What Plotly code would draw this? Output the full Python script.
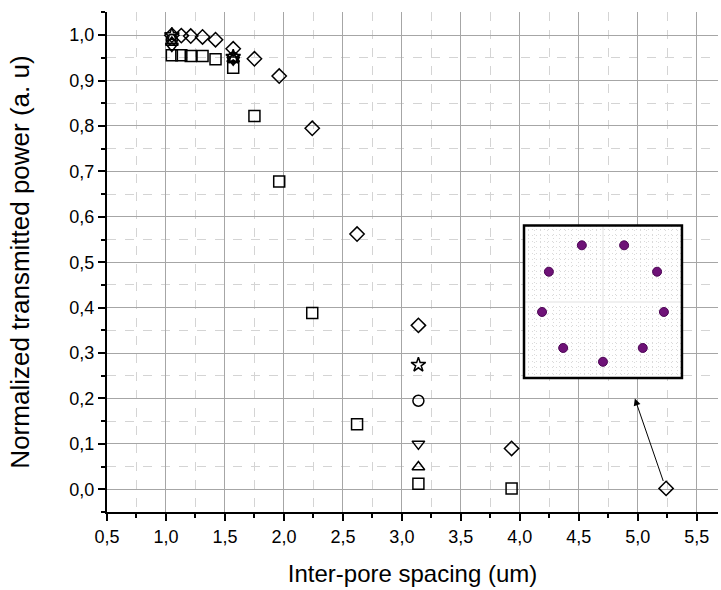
import plotly.graph_objects as go

# Inter-pore spacing (um) for each simulated ring
spacing = [1.05, 1.13, 1.21, 1.31, 1.42, 1.57, 1.75, 1.96, 2.24, 2.62, 3.14, 3.93, 5.24]

# Normalized transmitted power, series with samples at every spacing
power_square = [0.956, 0.956, 0.954, 0.954, 0.947, 0.928, 0.822, 0.678, 0.388, 0.143, 0.012, 0.002]
power_diamond = [1.000, 0.999, 0.998, 0.996, 0.990, 0.970, 0.948, 0.910, 0.795, 0.562, 0.361, 0.090, 0.002]

# Series sampled only at three spacings
spacing_few = [1.05, 1.57, 3.14]
power_star = [1.000, 0.952, 0.274]
power_circle = [0.990, 0.950, 0.195]
power_tri_down = [0.976, 0.946, 0.100]
power_tri_up = [0.984, 0.948, 0.049]

# Pore positions in the ring cross-section (unit radius)
pore_x = [0.00, 0.64, 0.98, 0.87, 0.34, -0.34, -0.87, -0.98, -0.64]
pore_y = [-1.00, -0.77, -0.17, 0.50, 0.94, 0.94, 0.50, -0.17, -0.77]

x_ticks = [0.5, 1.0, 1.5, 2.0, 2.5, 3.0, 3.5, 4.0, 4.5, 5.0, 5.5]
y_ticks = [0.0, 0.1, 0.2, 0.3, 0.4, 0.5, 0.6, 0.7, 0.8, 0.9, 1.0]

FONT = "Liberation Sans, Arial, sans-serif"
LINE = dict(color="black", width=1.5)

fig = go.Figure()

def add_series(xs, ys, symbol, size):
    fig.add_trace(go.Scatter(
        x=xs, y=ys, mode="markers", showlegend=False,
        marker=dict(symbol=symbol, size=size, color="black", line=LINE),
        xaxis="x", yaxis="y",
    ))

add_series(spacing[:len(power_square)], power_square, "square-open", 11)
add_series(spacing, power_diamond, "diamond-open", 11)
add_series(spacing_few, power_star, "star-open", 11)
add_series(spacing_few, power_circle, "circle-open", 11)
add_series(spacing_few, power_tri_down, "triangle-down-open", 11)
add_series(spacing_few, power_tri_up, "triangle-up-open", 11)

# Inset: pore layout of the largest-spacing ring
fig.add_trace(go.Scatter(
    x=pore_x, y=pore_y, mode="markers", showlegend=False,
    marker=dict(symbol="circle", size=9, color="#6e1277",
                line=dict(color="#4d0655", width=1)),
    xaxis="x2", yaxis="y2",
))

axis_common = dict(
    showline=True, linecolor="black", linewidth=2, mirror=False,
    ticks="outside", ticklen=7, tickwidth=1.5, tickcolor="black",
    showgrid=True, gridcolor="#a6a6a6", gridwidth=1,
    zeroline=False, tickformat=".1f",
    tickfont=dict(family=FONT, size=18, color="black"),
)

fig.update_layout(
    width=721, height=590,
    margin=dict(l=107, r=3, t=12, b=78),
    paper_bgcolor="white", plot_bgcolor="white",
    separators=", ",
    font=dict(family=FONT, color="black"),
    xaxis=dict(
        **axis_common,
        range=[0.5, 5.68], tickvals=x_ticks,
        minor=dict(dtick=0.25, tick0=0.5, ticks="outside", ticklen=4,
                   tickwidth=1.5, tickcolor="black", showgrid=True,
                   gridcolor="#d4d4d4", griddash="dash", gridwidth=1),
        title=dict(text="Inter-pore spacing (um)",
                   font=dict(family=FONT, size=24), standoff=20),
        domain=[0, 1],
    ),
    yaxis=dict(
        **axis_common,
        range=[-0.05, 1.051], tickvals=y_ticks,
        minor=dict(dtick=0.05, tick0=0, ticks="outside", ticklen=4,
                   tickwidth=1.5, tickcolor="black", showgrid=True,
                   gridcolor="#d4d4d4", griddash="dash", gridwidth=1),
        title=dict(text="Normalized transmitted power (a. u)",
                   font=dict(family=FONT, size=26), standoff=32),
        domain=[0, 1],
    ),
    xaxis2=dict(
        domain=[0.6825, 0.941], anchor="y2", range=[-1.27, 1.27],
        showticklabels=False, ticks="", showline=False,
        showgrid=True, dtick=0.1, gridcolor="#dadada", gridwidth=1,
        griddash="1px,3px", zeroline=True, zerolinecolor="#f0f0f0",
        zerolinewidth=2, fixedrange=True,
    ),
    yaxis2=dict(
        domain=[0.268, 0.573], anchor="x2", range=[-1.27, 1.27],
        showticklabels=False, ticks="", showline=False,
        showgrid=True, dtick=0.1, gridcolor="#dadada", gridwidth=1,
        griddash="1px,3px", zeroline=True, zerolinecolor="#f0f0f0",
        zerolinewidth=2, fixedrange=True,
    ),
    shapes=[
        dict(type="rect", xref="x2 domain", yref="y2 domain",
             x0=0, x1=1, y0=0, y1=1, layer="above",
             line=dict(color="black", width=2.5), fillcolor="rgba(0,0,0,0)"),
    ],
    annotations=[
        dict(x=4.975, y=0.200, ax=5.22, ay=0.015, xref="x", yref="y",
             axref="x", ayref="y", text="", showarrow=True,
             arrowhead=2, arrowsize=1.4, arrowwidth=1, arrowcolor="black"),
    ],
)

fig.write_html("out.html")
